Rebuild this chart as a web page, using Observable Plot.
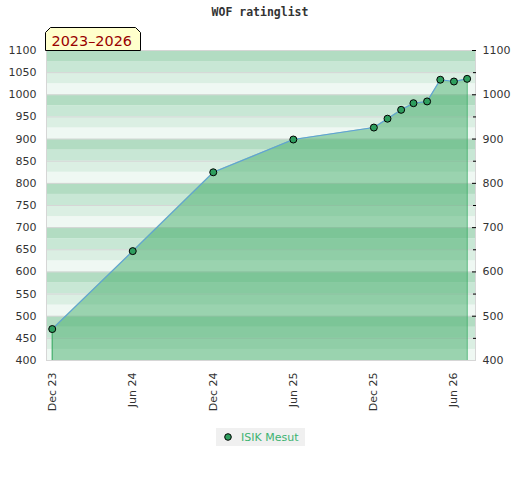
<!DOCTYPE html>
<html>
<head>
<meta charset="utf-8">
<script src="https://cdn.jsdelivr.net/npm/d3@7"></script>
<script src="https://cdn.jsdelivr.net/npm/@observablehq/plot@0.6"></script>
<style>
  html, body { margin: 0; padding: 0; background: #fff; }
  #wrap { position: relative; width: 520px; height: 480px; }
  #title { position: absolute; left: 0; top: 5px; width: 520px; text-align: center;
           font: bold 11.5px "DejaVu Sans Mono", monospace; color: #333; }
  #period { position: absolute; left: 45px; top: 27px; }
  #legend { position: absolute; left: 216px; top: 428px; width: 89px; height: 18px;
            background: #f0f0f0; font: 11px "DejaVu Sans", sans-serif; color: #3cb371;
            display: flex; align-items: center; }
  #legend svg { margin-left: 8px; margin-right: 9px; }
  #chart { position: absolute; left: 0; top: 0; }
</style>
</head>
<body>
<div id="wrap">
  <div id="chart"></div>
  <div id="title">WOF ratinglist</div>
  <svg id="period" width="97" height="25">
    <path d="M0.5,5.5 L5.5,0.5 L90.5,0.5 L95.5,5.5 L95.5,23.5 L0.5,23.5 Z" fill="#ffffcc" stroke="#000"/>
    <text x="6.5" y="19" fill="#990000" font-family="DejaVu Sans, sans-serif" font-size="14.5" textLength="80.5" lengthAdjust="spacingAndGlyphs">2023–2026</text>
  </svg>
  <div id="legend">
    <svg width="8" height="8"><circle cx="4" cy="4" r="3.3" fill="#2e9e5e" stroke="#000" stroke-width="1"/></svg>
    <span>ISIK Mesut</span>
  </div>
</div>
<script>
// ---- data ----
const dates = ["2023-12-01","2024-06-01","2024-12-01","2025-06-01","2025-12-01","2026-01-01",
               "2026-02-01","2026-03-01","2026-04-01","2026-05-01","2026-06-01","2026-07-01"];
const ratings = [471, 647, 825, 899, 926, 946, 966, 981, 985, 1034, 1030, 1036];
const playerName = "ISIK Mesut";
const xTickDates = ["2023-12-01","2024-06-01","2024-12-01","2025-06-01","2025-12-01","2026-06-01"];
const yMin = 400, yMax = 1100;
const xDomain = ["2023-11-18", "2026-07-20"];

const data = dates.map((d, i) => ({date: new Date(d + "T00:00:00Z"), rating: ratings[i]}));
const ends = [data[0], data[data.length - 1]];
const xd = xDomain.map(d => new Date(d + "T00:00:00Z"));
const xticks = xTickDates.map(d => new Date(d + "T00:00:00Z"));

const bandColors = ["#eff8f3", "#dbefe3", "#c8e7d5", "#b2dcc2"];
const bands = d3.range(yMin, yMax, 25);
const grid50 = d3.range(yMin, yMax + 1, 50);
const grid100 = d3.range(yMin, yMax + 1, 100);
const fmt = d3.format("d");

const chart = Plot.plot({
  width: 520,
  height: 420,
  marginTop: 50,
  marginBottom: 60,
  marginLeft: 46,
  marginRight: 45,
  style: {fontFamily: "DejaVu Sans, sans-serif", fontSize: "11px", color: "#333", background: "transparent"},
  x: {type: "utc", domain: xd},
  y: {domain: [yMin, yMax]},
  marks: [
    Plot.rect(bands, {x1: () => xd[0], x2: () => xd[1], y1: d => d, y2: d => d + 25,
      fill: d => bandColors[((d % 100) / 25) | 0]}),
    Plot.ruleY(grid50, {stroke: "#d6d6d6", strokeWidth: 1}),
    Plot.areaY(data, {x: "date", y1: () => yMin, y2: "rating", fill: "#45ae6b", fillOpacity: 0.5}),
    Plot.ruleX(ends, {x: "date", y1: () => yMin, y2: "rating", stroke: "#3cab66", strokeWidth: 1}),
    Plot.line(data, {x: "date", y: "rating", stroke: "#5fa0d8", strokeWidth: 1.1}),
    Plot.dot(data, {x: "date", y: "rating", r: 3.5, fill: "#2e9e5e", stroke: "#000", strokeWidth: 1}),
    Plot.frame({stroke: "#d6d6d6"}),
    Plot.axisX({ticks: xticks, tickFormat: d3.utcFormat("%b %y"), tickRotate: -90,
      tickSize: 0, tickPadding: 12, label: null}),
    Plot.axisY({anchor: "left", ticks: grid50, tickFormat: fmt, tickSize: 0, tickPadding: 10, label: null}),
    Plot.axisY({anchor: "right", ticks: grid100, tickFormat: fmt, tickSize: 0, tickPadding: 7, label: null}),
    Plot.axisY({anchor: "right", ticks: grid100.filter(v => v > yMin), tickSize: 4, dx: -4, tickFormat: () => "", label: null, stroke: "#000"}),
    Plot.axisY({anchor: "right", ticks: grid50.filter(v => v % 100 !== 0), tickSize: 3, dx: -3, tickFormat: () => "", label: null, stroke: "#000"})
  ]
});
document.getElementById("chart").appendChild(chart);
</script>
</body>
</html>
